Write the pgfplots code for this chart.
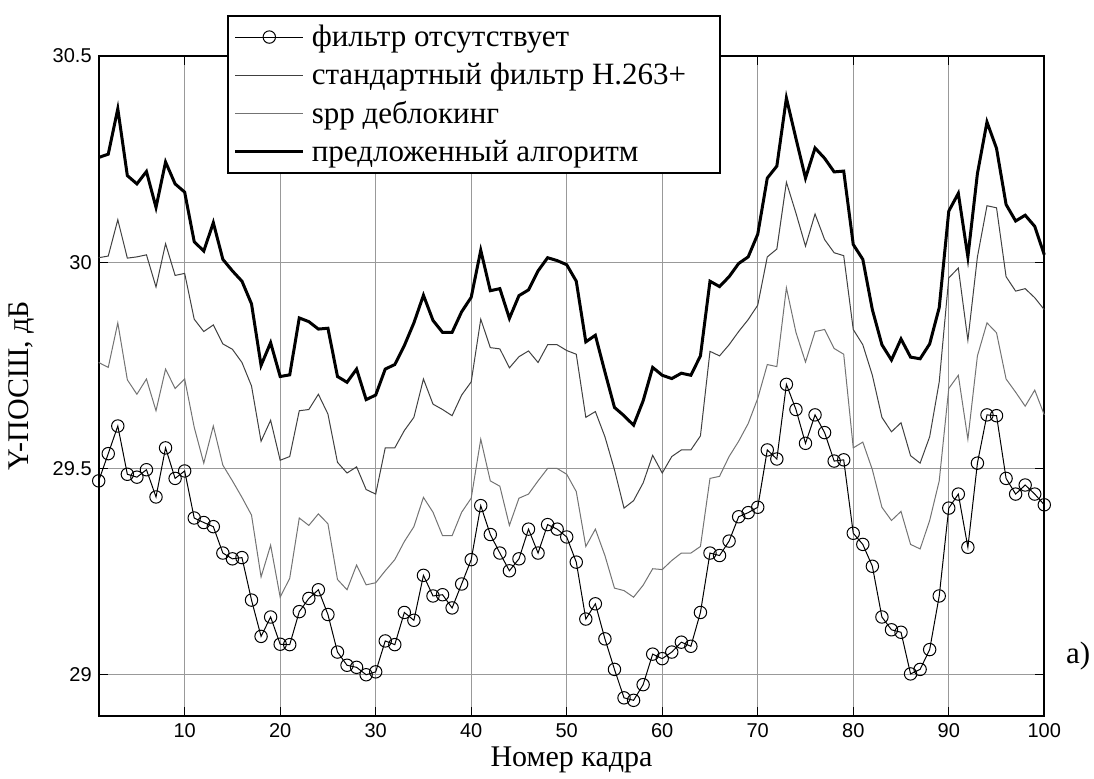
\documentclass[border=0pt]{standalone}
\usepackage{fontspec}
\setmainfont{Liberation Serif}
\newfontfamily\arialfont{Liberation Sans}
\usepackage{pgfplots}
\pgfplotsset{compat=1.18}
\usepackage{pgfplotstable}

\pgfplotstableread{
i nf std spp prop
1 29.470 30.011 29.757 30.254
2 29.536 30.015 29.745 30.262
3 29.603 30.103 29.853 30.372
4 29.486 30.010 29.715 30.210
5 29.479 30.013 29.680 30.190
6 29.497 30.018 29.717 30.220
7 29.431 29.940 29.640 30.133
8 29.550 30.045 29.741 30.243
9 29.476 29.968 29.694 30.190
10 29.494 29.973 29.717 30.170
11 29.380 29.862 29.600 30.050
12 29.369 29.832 29.513 30.027
13 29.359 29.848 29.603 30.096
14 29.295 29.802 29.508 30.007
15 29.281 29.789 29.470 29.979
16 29.284 29.757 29.430 29.954
17 29.181 29.700 29.387 29.899
18 29.093 29.566 29.237 29.750
19 29.140 29.617 29.314 29.805
20 29.074 29.520 29.188 29.723
21 29.073 29.529 29.234 29.727
22 29.153 29.640 29.380 29.865
23 29.185 29.643 29.362 29.856
24 29.206 29.680 29.390 29.838
25 29.146 29.632 29.366 29.840
26 29.055 29.515 29.231 29.723
27 29.023 29.489 29.206 29.709
28 29.018 29.504 29.266 29.741
29 29.000 29.449 29.218 29.667
30 29.007 29.438 29.223 29.678
31 29.082 29.550 29.252 29.741
32 29.073 29.550 29.279 29.752
33 29.151 29.592 29.323 29.798
34 29.132 29.624 29.359 29.853
35 29.241 29.717 29.430 29.920
36 29.191 29.656 29.394 29.859
37 29.194 29.643 29.337 29.830
38 29.162 29.628 29.337 29.830
39 29.220 29.678 29.394 29.880
40 29.279 29.710 29.428 29.915
41 29.410 29.862 29.571 30.029
42 29.340 29.793 29.470 29.931
43 29.295 29.790 29.457 29.936
44 29.252 29.744 29.362 29.864
45 29.281 29.771 29.428 29.919
46 29.353 29.785 29.438 29.933
47 29.295 29.757 29.470 29.979
48 29.364 29.800 29.500 30.011
49 29.353 29.800 29.500 30.004
50 29.334 29.786 29.486 29.994
51 29.273 29.777 29.444 29.954
52 29.135 29.624 29.311 29.807
53 29.172 29.638 29.353 29.823
54 29.087 29.577 29.289 29.734
55 29.013 29.497 29.210 29.648
56 28.944 29.404 29.204 29.628
57 28.938 29.422 29.188 29.605
58 28.976 29.465 29.217 29.664
59 29.050 29.532 29.257 29.745
60 29.039 29.489 29.255 29.726
61 29.055 29.529 29.277 29.718
62 29.079 29.545 29.295 29.731
63 29.069 29.545 29.295 29.726
64 29.151 29.579 29.311 29.773
65 29.295 29.784 29.476 29.954
66 29.289 29.773 29.481 29.941
67 29.324 29.800 29.529 29.965
68 29.383 29.832 29.566 29.997
69 29.393 29.861 29.609 30.013
70 29.406 29.896 29.670 30.068
71 29.545 30.013 29.752 30.204
72 29.523 30.032 29.747 30.233
73 29.704 30.194 29.938 30.398
74 29.643 30.119 29.830 30.300
75 29.561 30.039 29.758 30.204
76 29.630 30.117 29.832 30.277
77 29.587 30.055 29.837 30.252
78 29.518 30.023 29.791 30.219
79 29.521 30.016 29.777 30.221
80 29.343 29.837 29.550 30.043
81 29.316 29.800 29.564 30.007
82 29.263 29.726 29.497 29.885
83 29.140 29.624 29.406 29.800
84 29.109 29.589 29.374 29.763
85 29.103 29.611 29.396 29.814
86 29.002 29.531 29.316 29.770
87 29.013 29.513 29.305 29.766
88 29.061 29.577 29.374 29.802
89 29.191 29.710 29.470 29.890
90 29.404 29.962 29.694 30.124
91 29.438 29.986 29.726 30.167
92 29.309 29.811 29.571 30.013
93 29.513 30.013 29.773 30.215
94 29.630 30.137 29.853 30.340
95 29.628 30.132 29.829 30.276
96 29.476 29.965 29.717 30.140
97 29.438 29.930 29.685 30.100
98 29.460 29.936 29.651 30.114
99 29.438 29.914 29.690 30.087
100 29.412 29.885 29.630 30.018
}\data

\begin{document}
\begin{tikzpicture}
\useasboundingbox (0,0) rectangle (547pt,389pt);
\begin{axis}[
  at={(49.35pt,31pt)}, anchor=south west,
  scale only axis, width=472.8pt, height=330pt,
  xmin=1, xmax=100, ymin=28.9, ymax=30.5,
  xtick={10,20,...,100}, ytick={29,29.5,30,30.5},
  grid=major, major grid style={black!40, line width=0.4pt},
  tick align=inside, major tick length=4.5pt,
  tick style={black, line width=0.5pt},
  axis line style={line width=0.9pt},
  tick label style={font=\arialfont\fontsize{10}{12}\selectfont},
  /pgf/number format/assume math mode=true,
  xlabel={Номер кадра}, ylabel={Y-ПОСШ, дБ},
  label style={font=\fontsize{15}{18}\selectfont},
  xlabel style={at={(axis description cs:0.5,-0.0758)}, anchor=base},
  ylabel style={at={(axis description cs:-0.082,0.5)}, anchor=center},
  clip=false,
  legend style={at={(axis description cs:0.1357,1.0621)}, anchor=north west,
    draw=black, line width=0.8pt, fill=white, row sep=2.8pt,
    font=\fontsize{15.5}{18}\selectfont, inner xsep=3pt, inner ysep=2.5pt},
  legend cell align=left,
  legend image code/.code={\draw[mark repeat=2,mark phase=2,#1] plot coordinates {(2.5pt,0pt) (19.5pt,0pt) (36.5pt,0pt)};},
]
\addplot[black, line width=0.5pt, mark=o, mark size=3.1pt, mark options={solid, line width=0.5pt}] table[x=i,y=nf] {\data};
\addlegendentry{\hspace{1.5pt}\makebox[199pt][l]{фильтр отсутствует}}
\addplot[black!75, line width=0.5pt] table[x=i,y=std] {\data};
\addlegendentry{\hspace{1.5pt}\makebox[199pt][l]{стандартный фильтр H.263+}}
\addplot[black!55, line width=0.5pt] table[x=i,y=spp] {\data};
\addlegendentry{\hspace{1.5pt}\makebox[199pt][l]{spp деблокинг}}
\addplot[black, line width=1.5pt] table[x=i,y=prop] {\data};
\addlegendentry{\hspace{1.5pt}\makebox[199pt][l]{предложенный алгоритм}}
\node[font=\fontsize{15.5}{18}\selectfont] at (axis description cs:1.0357,0.0909) {a)};
\end{axis}
\end{tikzpicture}
\end{document}
